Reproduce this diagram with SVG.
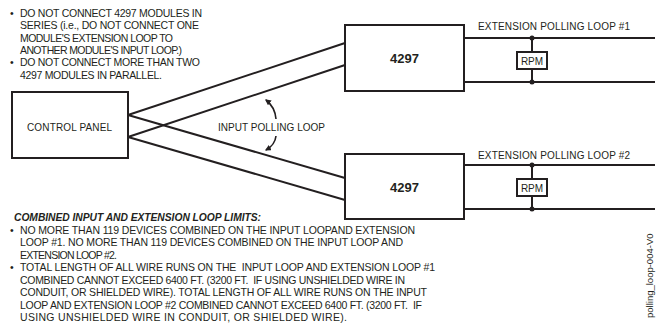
<svg xmlns="http://www.w3.org/2000/svg" width="660" height="324" viewBox="0 0 660 324">
<style>
text{font-family:"Liberation Sans",Arial,sans-serif;font-size:10px;fill:#231f20}
.n{font-size:10.5px}
.b{font-weight:bold;font-size:13px}
.h{font-weight:bold;font-style:italic;font-size:10.3px}
.box{fill:#fff;stroke:#231f20;stroke-width:2}
.w{fill:none;stroke:#231f20;stroke-width:2}
.a{fill:none;stroke:#231f20;stroke-width:1.6}
.d{fill:#231f20}
</style>
<defs>
<marker id="ah" viewBox="0 0 10 10" refX="8" refY="5" markerWidth="6" markerHeight="6" orient="auto" markerUnits="userSpaceOnUse">
<path d="M0,0 L10,5 L0,10 z" fill="#231f20"/>
</marker>
</defs>
<rect width="660" height="324" fill="#fff"/>
<g id="notes-top">
<text class="n" x="10" y="17">•</text>
<text class="n" x="20" y="17" textLength="182">DO NOT CONNECT 4297 MODULES IN</text>
<text class="n" x="20" y="29.3" textLength="179">SERIES (i.e., DO NOT CONNECT ONE</text>
<text class="n" x="20" y="41.6" textLength="153">MODULE'S EXTENSION LOOP TO</text>
<text class="n" x="20" y="53.9" textLength="162">ANOTHER MODULE'S INPUT LOOP.)</text>
<text class="n" x="10" y="66.2">•</text>
<text class="n" x="20" y="66.2" textLength="180">DO NOT CONNECT MORE THAN TWO</text>
<text class="n" x="20" y="78.5" textLength="142">4297 MODULES IN PARALLEL.</text>
</g>
<g id="connectors">
<line class="w" x1="128" y1="115" x2="345" y2="43"/>
<line class="w" x1="128" y1="137" x2="345" y2="65"/>
<line class="w" x1="128" y1="115" x2="345" y2="178"/>
<line class="w" x1="128" y1="137" x2="345" y2="200"/>
<line class="w" x1="464" y1="38" x2="655" y2="38"/>
<line class="w" x1="464" y1="82" x2="655" y2="82"/>
<line class="w" x1="532" y1="38" x2="532" y2="82"/>
<circle class="d" cx="532" cy="38" r="2.5"/>
<circle class="d" cx="532" cy="82" r="2.5"/>
<line class="w" x1="464" y1="165" x2="655" y2="165"/>
<line class="w" x1="464" y1="209" x2="655" y2="209"/>
<line class="w" x1="532" y1="165" x2="532" y2="209"/>
<circle class="d" cx="532" cy="165" r="2.5"/>
<circle class="d" cx="532" cy="209" r="2.5"/>
<path class="a" d="M276,119 Q275,107 266,100" marker-end="url(#ah)"/>
<path class="a" d="M276,136 Q275,145 266,150" marker-end="url(#ah)"/>
<text x="218" y="131" textLength="107">INPUT POLLING LOOP</text>
<text x="478" y="30" textLength="152">EXTENSION POLLING LOOP #1</text>
<text x="478" y="159" textLength="152">EXTENSION POLLING LOOP #2</text>
</g>
<g id="control-panel">
<rect class="box" x="12" y="92" width="116" height="66"/>
<text x="27" y="131" textLength="85">CONTROL PANEL</text>
</g>
<g id="module-1">
<rect class="box" x="345" y="25" width="119" height="66"/>
<text class="b" x="404.5" y="63" text-anchor="middle">4297</text>
</g>
<g id="rpm-1">
<rect class="box" x="517" y="52" width="30" height="17"/>
<text x="532" y="64.5" text-anchor="middle">RPM</text>
</g>
<g id="module-2">
<rect class="box" x="345" y="154" width="119" height="65"/>
<text class="b" x="404.5" y="192" text-anchor="middle">4297</text>
</g>
<g id="rpm-2">
<rect class="box" x="517" y="179" width="30" height="17"/>
<text x="532" y="191.5" text-anchor="middle">RPM</text>
</g>
<g id="notes-bottom">
<text class="h" x="14" y="221" textLength="247">COMBINED INPUT AND EXTENSION LOOP LIMITS:</text>
<text class="n" x="10" y="233.5">•</text>
<text class="n" x="20" y="233.5" textLength="395">NO MORE THAN 119 DEVICES COMBINED ON THE INPUT LOOPAND EXTENSION</text>
<text class="n" x="20" y="246" textLength="383">LOOP #1. NO MORE THAN 119 DEVICES COMBINED ON THE INPUT LOOP AND</text>
<text class="n" x="20" y="258.5" textLength="97">EXTENSION LOOP #2.</text>
<text class="n" x="10" y="271">•</text>
<text class="n" x="20" y="271" textLength="415" xml:space="preserve">TOTAL LENGTH OF ALL WIRE RUNS ON THE  INPUT LOOP AND EXTENSION LOOP #1</text>
<text class="n" x="20" y="283.5" textLength="385" xml:space="preserve">COMBINED CANNOT EXCEED 6400 FT. (3200 FT.  IF USING UNSHIELDED WIRE IN</text>
<text class="n" x="20" y="296" textLength="407">CONDUIT, OR SHIELDED WIRE). TOTAL LENGTH OF ALL WIRE RUNS ON THE INPUT</text>
<text class="n" x="20" y="308.5" textLength="402" xml:space="preserve">LOOP AND EXTENSION LOOP #2 COMBINED CANNOT EXCEED 6400 FT. (3200 FT.  IF</text>
<text class="n" x="20" y="321" textLength="327">USING UNSHIELDED WIRE IN CONDUIT, OR SHIELDED WIRE).</text>
<text x="653" y="318" transform="rotate(-90 653 318)" style="font-size:9.5px">polling_loop-004-V0</text>
</g>
</svg>
